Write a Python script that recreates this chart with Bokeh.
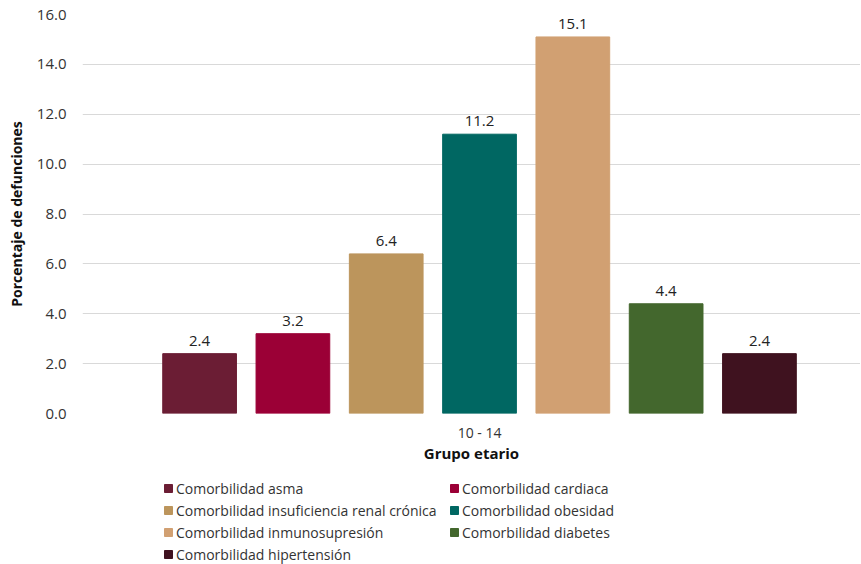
from bokeh.plotting import figure
from bokeh.layouts import column
from bokeh.models import (ColumnDataSource, Range1d, FixedTicker, LabelSet, Legend,
                          LegendItem, NumeralTickFormatter)
from bokeh.core.properties import value
from bokeh.embed import file_html
from bokeh.resources import INLINE

categories = ["10 - 14"]
series = [
    "Comorbilidad asma",
    "Comorbilidad cardiaca",
    "Comorbilidad insuficiencia renal crónica",
    "Comorbilidad obesidad",
    "Comorbilidad inmunosupresión",
    "Comorbilidad diabetes",
    "Comorbilidad hipertensión",
]
values = [2.4, 3.2, 6.4, 11.2, 15.1, 4.4, 2.4]
colors = ["#6B1D34", "#9B0036", "#BC955C", "#006762", "#D1A072", "#43672D", "#3F121F"]
y_ticks = [0, 2, 4, 6, 8, 10, 12, 14, 16]

FONT = "Open Sans"

n = len(series)
cat_pos = 0
xs = [cat_pos + (i - (n - 1) / 2) for i in range(n)]
labels = [f"{v:.1f}" for v in values]

src = ColumnDataSource(dict(x=xs, top=values, color=colors, name=series, label=labels))

W = 860
p = figure(width=W, height=470, output_backend="svg", toolbar_location=None,
           x_range=Range1d(-4.255, 4.083), y_range=Range1d(0, 16),
           min_border_left=82, min_border_right=0, min_border_top=14, min_border_bottom=57)
p.outline_line_color = None

r = p.vbar(x="x", top="top", width=0.79, source=src, fill_color="color", line_color="color")

p.add_layout(LabelSet(x="x", y="top", text="label", source=src, y_offset=8,
                      text_align="center", text_baseline="bottom",
                      text_font=value(FONT), text_font_size="15px", text_color="#222222"))

p.xgrid.grid_line_color = None
p.ygrid.grid_line_color = "#D9D9D9"
p.ygrid.ticker = FixedTicker(ticks=y_ticks)

p.yaxis.ticker = FixedTicker(ticks=y_ticks)
p.yaxis.formatter = NumeralTickFormatter(format="0.0")
p.yaxis.axis_line_color = None
p.yaxis.major_tick_line_color = None
p.yaxis.minor_tick_line_color = None
p.yaxis.major_label_text_font = FONT
p.yaxis.major_label_text_font_size = "15px"
p.yaxis.major_label_text_color = "#333333"
p.yaxis.major_label_standoff = 10
p.yaxis.axis_label = "Porcentaje de defunciones"
p.yaxis.axis_label_text_font = FONT
p.yaxis.axis_label_text_font_style = "bold"
p.yaxis.axis_label_text_font_size = "14px"
p.yaxis.axis_label_text_color = "#111111"
p.yaxis.axis_label_standoff = 8

p.xaxis.ticker = FixedTicker(ticks=[cat_pos])
p.xaxis.major_label_overrides = {cat_pos: categories[0]}
p.xaxis.axis_line_color = None
p.xaxis.major_tick_line_color = None
p.xaxis.minor_tick_line_color = None
p.xaxis.major_label_text_font = FONT
p.xaxis.major_label_text_font_size = "14px"
p.xaxis.major_label_text_color = "#333333"
p.xaxis.major_label_standoff = 3
p.xaxis.axis_label = "Grupo etario"
p.xaxis.axis_label_text_font = FONT
p.xaxis.axis_label_text_font_style = "bold"
p.xaxis.axis_label_text_font_size = "15px"
p.xaxis.axis_label_text_color = "#111111"
p.xaxis.axis_label_standoff = -2

# Legend panel below the chart (a figure without axes whose ranges keep its bars out of view)
lg = figure(width=W, height=94, output_backend="svg", toolbar_location=None,
            x_range=Range1d(100, 101), y_range=Range1d(100, 101),
            min_border_left=0, min_border_right=0, min_border_top=0, min_border_bottom=0)
lg.axis.visible = False
lg.grid.visible = False
lg.outline_line_color = None
r2 = lg.vbar(x="x", top="top", width=0.79, source=src, fill_color="color", line_color="color")

items = [LegendItem(label=s, renderers=[r2], index=i) for i, s in enumerate(series)]
legend = Legend(items=items, location=(81, 0), orientation="horizontal", ncols=2,
                border_line_color=None, background_fill_alpha=0,
                padding=0, margin=0, spacing=2,
                glyph_width=10, glyph_height=10, label_standoff=3, label_height=20,
                label_width=271,
                label_text_font=FONT, label_text_font_size="14px", label_text_color="#333333")
lg.add_layout(legend)

open("out.html", "w").write(file_html(column(p, lg, spacing=0), INLINE))
